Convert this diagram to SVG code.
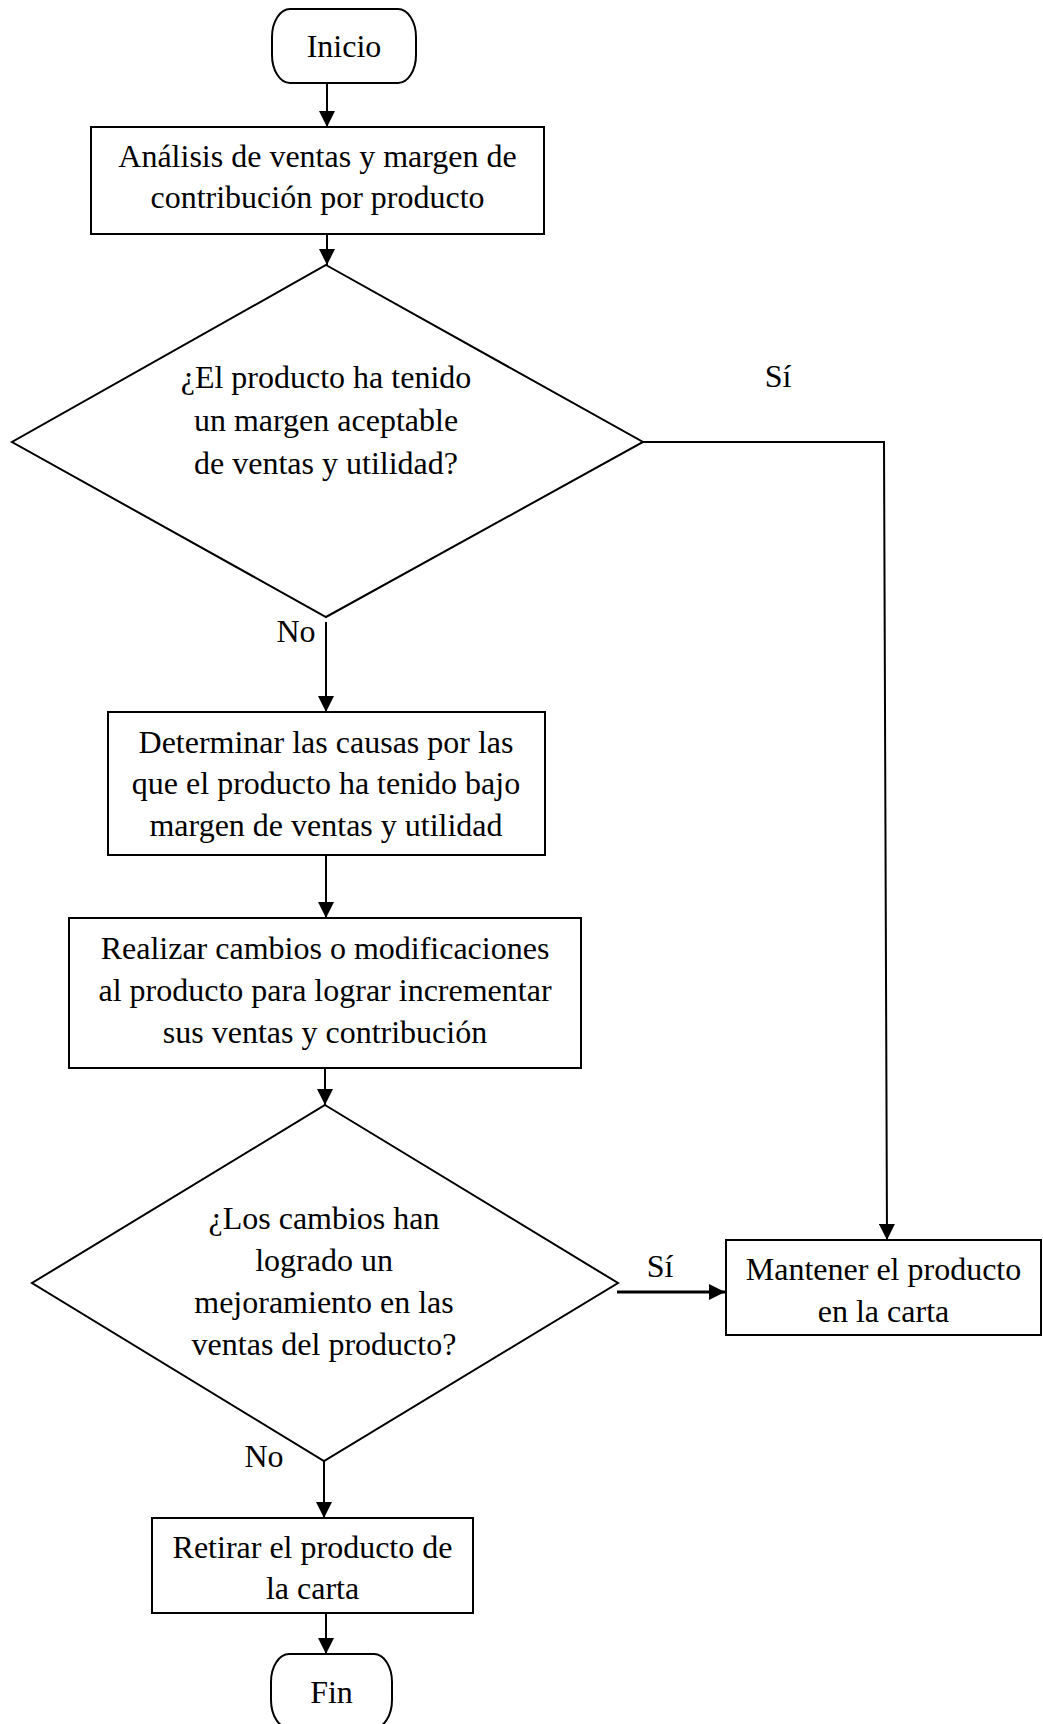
<svg xmlns="http://www.w3.org/2000/svg" width="1043" height="1724" viewBox="0 0 1043 1724">
  <style>
    .shape { fill: #ffffff; stroke: #000000; stroke-width: 2; }
    .edge { fill: none; stroke: #000000; stroke-width: 2; }
    .edge.bold { stroke-width: 3; }
    text { font-family: "Liberation Serif", "Times New Roman", serif; font-size: 32px; fill: #000000; text-anchor: middle; }
  </style>
  <defs>
    <marker id="arrow" markerUnits="userSpaceOnUse" viewBox="0 0 16 16" markerWidth="16" markerHeight="16" refX="16" refY="8" orient="auto">
      <path d="M0,0 L16,8 L0,16 Z" fill="#000000"/>
    </marker>
  </defs>

  <rect width="1043" height="1724" fill="#ffffff"/>

  <!-- connectors -->
  <g id="connectors">
    <path class="edge" d="M327,83 V127" marker-end="url(#arrow)"/>
    <path class="edge" d="M327,234 V265" marker-end="url(#arrow)"/>
    <path class="edge" d="M326,622 V712" marker-end="url(#arrow)"/>
    <path class="edge" d="M643,442 H884 L887,1240" marker-end="url(#arrow)"/>
    <path class="edge" d="M326,855 V918" marker-end="url(#arrow)"/>
    <path class="edge" d="M325,1068 V1105" marker-end="url(#arrow)"/>
    <path class="edge bold" d="M617,1292 H725" marker-end="url(#arrow)"/>
    <path class="edge" d="M324,1461 V1518" marker-end="url(#arrow)"/>
    <path class="edge" d="M326,1613 V1654" marker-end="url(#arrow)"/>
    <text x="778" y="387">Sí</text>
    <text x="296" y="642">No</text>
    <text x="660" y="1277">Sí</text>
    <text x="264" y="1467">No</text>
  </g>

  <!-- start terminal -->
  <g id="inicio">
    <rect class="shape" x="272" y="9" width="144" height="74" rx="18" ry="28"/>
    <text x="344" y="57">Inicio</text>
  </g>

  <g id="analisis">
    <rect class="shape" x="91" y="127" width="453" height="107"/>
    <text x="317.5" y="167">Análisis de ventas y margen de</text>
    <text x="317.5" y="208">contribución por producto</text>
  </g>

  <g id="decision-margen">
    <polygon class="shape" points="326,265 643,442 326,617 12,442"/>
    <text x="326" y="388">¿El producto ha tenido</text>
    <text x="326" y="431">un margen aceptable</text>
    <text x="326" y="474">de ventas y utilidad?</text>
  </g>

  <g id="causas">
    <rect class="shape" x="108" y="712" width="437" height="143"/>
    <text x="326" y="753">Determinar las causas por las</text>
    <text x="326" y="794">que el producto ha tenido bajo</text>
    <text x="326" y="836">margen de ventas y utilidad</text>
  </g>

  <g id="cambios">
    <rect class="shape" x="69" y="918" width="512" height="150"/>
    <text x="325" y="959">Realizar cambios o modificaciones</text>
    <text x="325" y="1001">al producto para lograr incrementar</text>
    <text x="325" y="1043">sus ventas y contribución</text>
  </g>

  <g id="decision-mejora">
    <polygon class="shape" points="325,1105 618,1283 324,1461 32,1283"/>
    <text x="324" y="1229">¿Los cambios han</text>
    <text x="324" y="1271">logrado un</text>
    <text x="324" y="1313">mejoramiento en las</text>
    <text x="324" y="1355">ventas del producto?</text>
  </g>

  <g id="mantener">
    <rect class="shape" x="726" y="1240" width="315" height="95"/>
    <text x="883.5" y="1280">Mantener el producto</text>
    <text x="883.5" y="1322">en la carta</text>
  </g>

  <g id="retirar">
    <rect class="shape" x="152" y="1518" width="321" height="95"/>
    <text x="312.5" y="1558">Retirar el producto de</text>
    <text x="312.5" y="1599">la carta</text>
  </g>

  <!-- end terminal -->
  <g id="fin">
    <rect class="shape" x="271" y="1654" width="121" height="74" rx="18" ry="28"/>
    <text x="331.5" y="1703">Fin</text>
  </g>
</svg>
